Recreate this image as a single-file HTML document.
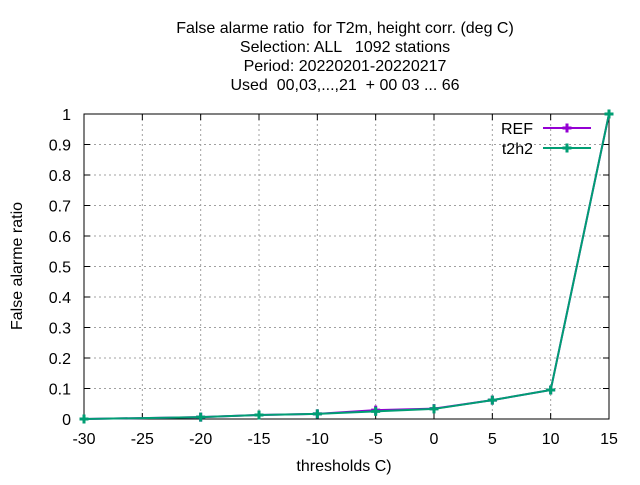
<!DOCTYPE html>
<html><head><meta charset="utf-8"><style>
body{margin:0;background:#fff;width:640px;height:480px;overflow:hidden}
svg{font-family:"Liberation Sans",sans-serif}
text{white-space:pre}
</style></head><body>
<svg id="c" width="640" height="480">
<g font-size="16" text-anchor="middle" fill="#000">
<text x="345" y="33">False alarme ratio  for T2m, height corr. (deg C)</text>
<text x="345" y="52">Selection: ALL   1092 stations</text>
<text x="345" y="71">Period: 20220201-20220217</text>
<text x="345" y="90">Used  00,03,...,21  + 00 03 ... 66</text>
</g>
<text transform="translate(22,266) rotate(-90)" text-anchor="middle" font-size="16">False alarme ratio</text>
<text x="344" y="471" text-anchor="middle" font-size="16">thresholds C)</text>
<g id="grid"></g><g id="axes"></g><g id="series"></g>
<g font-size="16">
<text x="533" y="134" text-anchor="end">REF</text>
<line x1="543" y1="128" x2="591" y2="128" stroke="#9400d3" stroke-width="2"/>
<text x="533" y="154" text-anchor="end">t2h2</text>
<line x1="543" y1="148" x2="591" y2="148" stroke="#009e73" stroke-width="2"/>
</g>
</svg>
<script>
const xTicks=[-30,-25,-20,-15,-10,-5,0,5,10,15];
const yTicks=[0,0.1,0.2,0.3,0.4,0.5,0.6,0.7,0.8,0.9,1];
const thresholds=[-30,-20,-15,-10,-5,0,5,10,15];
const refValues=[0,0.006,0.013,0.017,0.029,0.034,0.062,0.095,1];
const t2h2Values=[0,0.006,0.013,0.017,0.025,0.033,0.062,0.095,1];
const L=84,R=609,T=114,B=419;
const X=v=>L+(v+30)/45*(R-L), Y=v=>B-v*(B-T);
const NS="http://www.w3.org/2000/svg";
function mk(p,t,a){const e=document.createElementNS(NS,t);for(const k in a)e.setAttribute(k,a[k]);p.appendChild(e);return e;}
const g=document.getElementById('grid'),ax=document.getElementById('axes'),s=document.getElementById('series');
xTicks.forEach(v=>{const x=X(v);
if(v>-30&&v<15){const l=mk(g,'line',{x1:x,y1:T,x2:x,y2:B,stroke:'#a0a0a0','stroke-dasharray':'2,3'});}
mk(ax,'line',{x1:x,y1:B,x2:x,y2:B-6,stroke:'#000'});mk(ax,'line',{x1:x,y1:T,x2:x,y2:T+6,stroke:'#000'});
const t=mk(ax,'text',{x:x,y:B+25,'text-anchor':'middle','font-size':16});t.textContent=v;
});
yTicks.forEach(v=>{const y=Y(v);
if(v>0&&v<1){const l=mk(g,'line',{x1:L,y1:y,x2:R,y2:y,stroke:'#a0a0a0','stroke-dasharray':'2,3'});}
mk(ax,'line',{x1:L,y1:y,x2:L+6,y2:y,stroke:'#000'});mk(ax,'line',{x1:R,y1:y,x2:R-6,y2:y,stroke:'#000'});
const t=mk(ax,'text',{x:L-13,y:y+6,'text-anchor':'end','font-size':16});t.textContent=String(v);
});
const fr=mk(ax,'rect',{x:L,y:T,width:R-L,height:B-T,fill:'none',stroke:'#000'});

function mark(x,y){return `M${x-4.5} ${y-1.5}h3v-3h3v3h3v3h-3v3h-3v-3h-3z`;}
function series(vals,col,name){
const pts=thresholds.map((t,i)=>X(t)+','+Y(vals[i])).join(' ');
const pl=mk(s,'polyline',{points:pts,fill:'none',stroke:col,'stroke-width':2});

thresholds.forEach((t,i)=>{
const m=mk(s,'path',{d:mark(X(t),Y(vals[i])),fill:col});
});}
series(refValues,'#9400d3','ref');
series(t2h2Values,'#009e73','t2h2');
[[567,128,'#9400d3'],[567,148,'#009e73']].forEach(a=>mk(s,'path',{d:mark(a[0],a[1]),fill:a[2]}));
</script>
</body></html>
